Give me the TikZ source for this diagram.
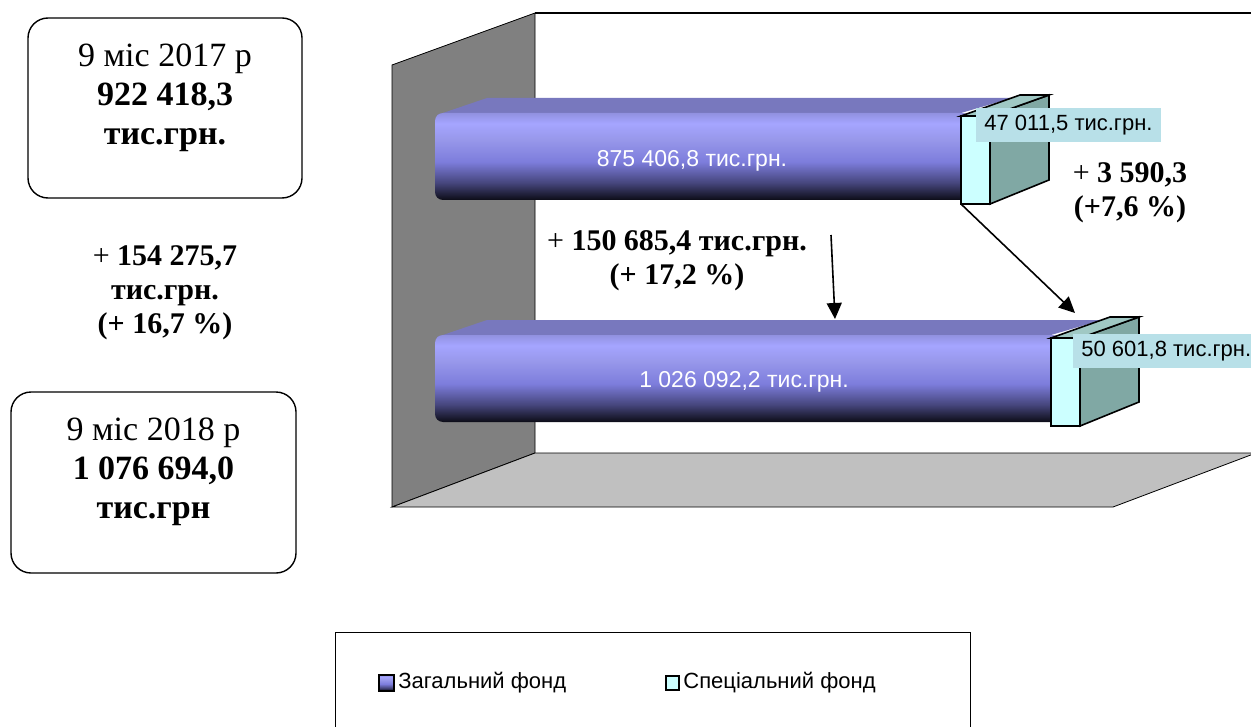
\documentclass[tikz,border=0pt]{standalone}
\usepackage{fontspec}
\setmainfont{Liberation Serif}
\setsansfont{Liberation Sans}
\usetikzlibrary{arrows.meta,positioning}
\definecolor{barlight}{RGB}{165,165,255}
\definecolor{barmid}{RGB}{125,125,220}
\definecolor{barlow}{RGB}{70,70,125}
\definecolor{bardark}{RGB}{12,12,22}
\definecolor{bartop}{RGB}{120,120,190}
\definecolor{specfront}{RGB}{204,255,255}
\definecolor{specside}{RGB}{128,168,164}
\definecolor{spectop}{RGB}{160,200,196}
\definecolor{labelbg}{RGB}{184,224,232}
\definecolor{wallgray}{RGB}{128,128,128}
\definecolor{floorgray}{RGB}{192,192,192}
\pgfdeclareverticalshading{barshade}{100bp}{
    color(0bp)=(bardark); color(25bp)=(bardark); color(35bp)=(barlow);
    color(47bp)=(barmid); color(60bp)=(barlight!92!black); color(69bp)=(barlight);
    color(75bp)=(barlight!88!black); color(100bp)=(barlight!88!black)}
\tikzset{
    yearbox/.style = {
        rectangle,
        rounded corners=10pt,
        draw=black,
        line width=0.7pt,
        minimum width=137pt,
        minimum height=90pt
    },
    yeartext/.style = {
        align=center,
        inner sep=0pt,
        font=\fontsize{17}{19.5}\selectfont
    },
    difftext/.style = {
        align=center,
        inner sep=0pt,
        font=\fontsize{15}{17}\selectfont
    },
    barlabel/.style = {
        inner sep=0pt,
        text=white,
        font=\sffamily\fontsize{11.5}{13}\selectfont
    },
    vallabel/.style = {
        fill=labelbg,
        anchor=west,
        inner xsep=4pt,
        inner ysep=0pt,
        minimum height=17pt,
        font=\sffamily\fontsize{11}{13}\selectfont
    },
    legendtext/.style = {
        anchor=west,
        inner sep=0pt,
        font=\sffamily\fontsize{11}{13}\selectfont
    },
    arrowline/.style = {
        -{Triangle[length=8pt,width=7.5pt]},
        line width=0.8pt
    }
}

\begin{document}
\begin{tikzpicture}[x=0.5pt, y=-0.5pt]
    \useasboundingbox (0,0) rectangle (1251,727);
    \clip (0,0) rectangle (1251,727);

    \node [yearbox] (y17) at (165,108) {};
    \node [yeartext, below=13pt of y17.north] (t17) {9 міс 2017 р\\\textbf{922 418,3}\\\textbf{тис.грн.}};
    \node [yearbox, minimum width=142.5pt, minimum height=90.5pt] (y18) at (153.5,482.5) {};
    \node [yeartext, below=13pt of y18.north] (t18) {9 міс 2018 р\\\textbf{1 076 694,0}\\\textbf{тис.грн}};
    \node [difftext] (dall) at (165,293) {+ \textbf{154 275,7}\\\textbf{тис.грн.}\\\textbf{(+ 16,7 \%)}};

    % chart walls
    \draw [fill=wallgray] (392,65) -- (535,13) -- (535,453) -- (392,507) -- cycle;
    \draw [fill=floorgray] (392,507) -- (535,453) -- (1256,453) -- (1113,507) -- cycle;
    \draw [line width=0.8pt] (535,13) -- (1260,13);

    % bars
    \foreach \yt/\xe in {113/961, 335/1051} {
        \fill [bartop] (437,\yt+2) -- (487,\yt-15) -- (\xe+51,\yt-15) -- (\xe,\yt) -- cycle;
        \shade [rounded corners=4pt, shading=barshade] (435,\yt) rectangle (\xe+10,\yt+87);
        \draw [fill=specfront, line width=0.8pt] (\xe,\yt+3) rectangle (\xe+29,\yt+91);
        \draw [fill=specside, line width=0.8pt] (\xe+29,\yt+3) -- (\xe+88,\yt-18) -- (\xe+88,\yt+67) -- (\xe+29,\yt+91) -- cycle;
        \draw [fill=spectop, line width=0.8pt] (\xe,\yt+3) -- (\xe+29,\yt+3) -- (\xe+88,\yt-18) -- (\xe+59,\yt-18) -- cycle;
    }

    \node [barlabel] (g17) at (692,161) {875 406,8 тис.грн.};
    \node [barlabel] (g18) at (744,382) {1 026 092,2 тис.грн.};
    \node [vallabel] (s17) at (976,125) {47 011,5 тис.грн.};
    \node [vallabel] (s18) at (1073,351) {50 601,8 тис.грн.};

    \node [difftext] (dgen) at (677,261) {+ \textbf{150 685,4 тис.грн.}\\\textbf{(+ 17,2 \%)}};
    \node [difftext] (dspec) at (1130,193) {+ \textbf{3 590,3}\\\textbf{(+7,6 \%)}};

    \coordinate (g0) at (831,235);
    \coordinate (g1) at (835,319);
    \coordinate (s0) at (961,204);
    \coordinate (s1) at (1075,313);
    \draw [arrowline] (g0) -- (g1);
    \draw [arrowline] (s0) -- (s1);

    % legend
    \draw (335,632) rectangle (970,760);
    \shade [shading=barshade] (379,675) rectangle (394,691);
    \draw [line width=1.2pt] (379,675) rectangle (394,691);
    \node [legendtext] (lgen) at (398,683) {Загальний фонд};
    \draw [fill=specfront, line width=0.8pt] (666,676) rectangle (679,690);
    \node [legendtext] (lspec) at (683,683) {Спеціальний фонд};
\end{tikzpicture}
\end{document}
